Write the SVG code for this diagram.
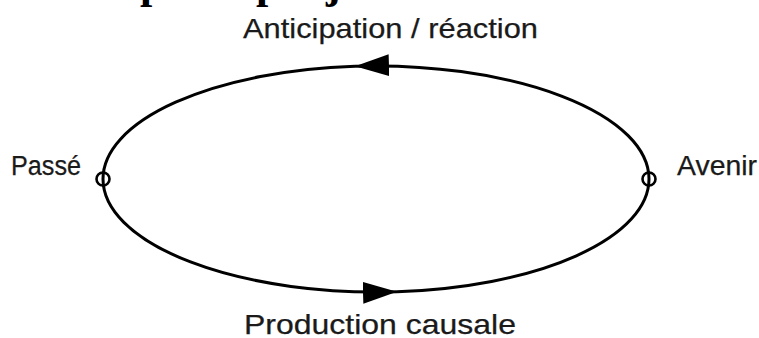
<svg xmlns="http://www.w3.org/2000/svg" width="759" height="338" viewBox="0 0 759 338">
<style>
.lbl{font-family:"Liberation Sans","DejaVu Sans",sans-serif;fill:#1a1a1a;stroke:#1a1a1a;stroke-width:0.25}
.edge{fill:none;stroke:#000;stroke-width:3}
.node{fill:none;stroke:#000;stroke-width:2.6}
.ttl{font-family:"Liberation Serif",serif;font-weight:bold;font-size:44px;fill:#000}
</style>
<defs>
<marker id="arr" markerUnits="userSpaceOnUse" markerWidth="36" markerHeight="26" refX="34" refY="12" orient="auto" viewBox="0 0 36 24">
<path d="M0,1 L34,12 L0,23 Z" fill="#000"/>
</marker>
</defs>
<rect width="759" height="338" fill="#fff"/>
<g id="title-fragments">
<text class="ttl" x="140" y="-2">p</text>
<text class="ttl" x="256" y="-2">p</text>
<text class="ttl" x="326" y="-2">j</text>
</g>
<g id="connectors">
<path class="edge" d="M649,179 A273,113 0 0 0 355,66.3" marker-end="url(#arr)"/>
<path class="edge" d="M355,66.3 A273,113 0 0 0 103,179"/>
<path class="edge" d="M103,179 A273,113 0 0 0 397,291.7" marker-end="url(#arr)"/>
<path class="edge" d="M397,291.7 A273,113 0 0 0 649,179"/>
<text class="lbl" x="243" y="38" font-size="28" textLength="295" lengthAdjust="spacingAndGlyphs">Anticipation / réaction</text>
<text class="lbl" x="244" y="334" font-size="28" textLength="272" lengthAdjust="spacingAndGlyphs">Production causale</text>
</g>
<g id="node-passe">
<circle class="node" cx="103" cy="179" r="6.5"/>
<text class="lbl" x="11" y="175" font-size="27" textLength="70" lengthAdjust="spacingAndGlyphs">Passé</text>
</g>
<g id="node-avenir">
<circle class="node" cx="649" cy="179" r="6.5"/>
<text class="lbl" x="677" y="175" font-size="27" textLength="80" lengthAdjust="spacingAndGlyphs">Avenir</text>
</g>
</svg>
